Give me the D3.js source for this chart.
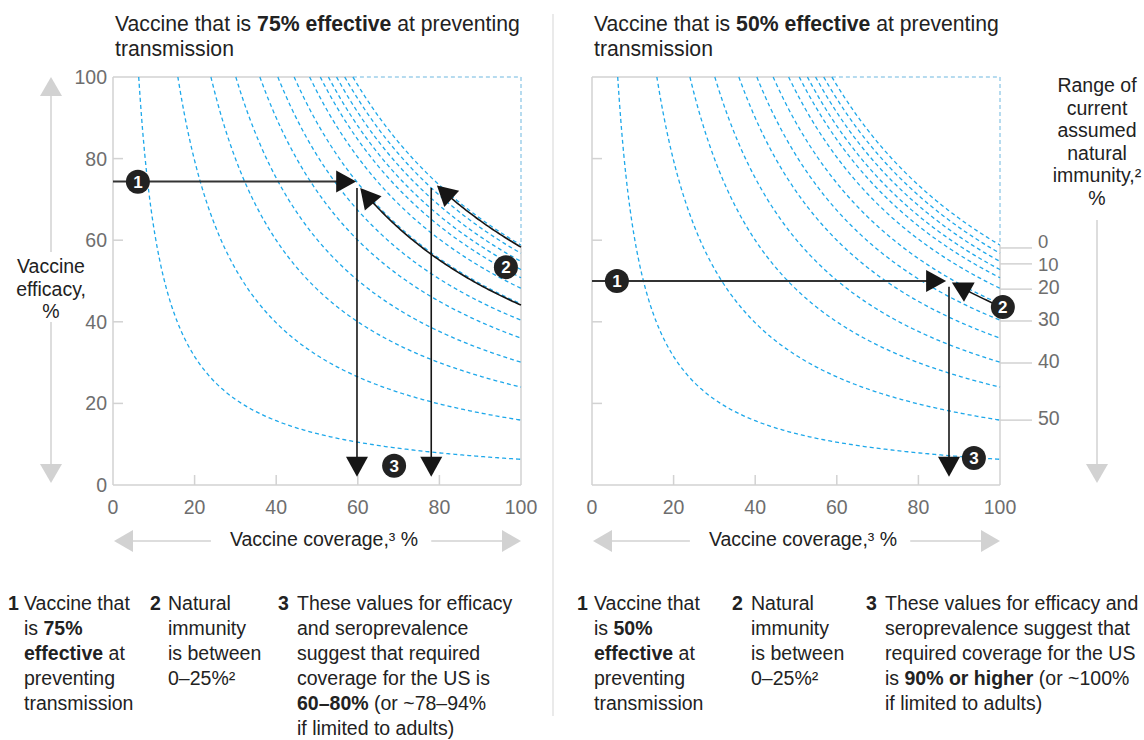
<!DOCTYPE html>
<html><head><meta charset="utf-8">
<script src="https://cdn.jsdelivr.net/npm/d3@7"></script>
<style>
body{margin:0;background:#fff;}
svg{font-family:"Liberation Sans", Arial, sans-serif;}
</style></head><body>
<svg id="chart" width="1144" height="740"></svg>
<script>
// ---------- data ----------
const coverageTicks = [0, 20, 40, 60, 80, 100];
const efficacyTicks = [0, 20, 40, 60, 80, 100];
// coverage (%) each dashed iso-immunity line needs at 100% efficacy
const isoLineCoverageAt100 = [6.3, 15.9, 24.0, 30.1, 36.0, 40.4, 44.4, 48.2, 50.8, 52.8, 54.8, 56.8, 58.8];
// natural immunity legend (right panel)
const immunityLabels = [0, 10, 20, 30, 40, 50];
const immunityTickEfficacy = [58.1, 54.2, 48.0, 40.2, 29.9, 15.9];

// panel annotations
const panelTitleBold = ["75% effective", "50% effective"];
const efficacyLine = [74.4, 50];                 // arrow 1 efficacy
const efficacyLineEnd = [59.6, 86.8];            // arrow 1 coverage at tip
const coverageDrops = [[59.8, 78.0], [87.5]];    // arrow 3 coverage
const dropTopEfficacy = [[72.8, 72.8], [48.6]];
const dropEndEfficacy = [2, 2];
const immunityArrowEffAt100 = [[58.3, 44.1], [43.8]]; // black arrow 2 curves
const immunityArrowTipCoverage = [[79.4, 60.6], [88.2]];
const marker1 = [[6.1, 74.3], [6.1, 50]];
const marker2 = [[96.3, 53.4], [100.7, 43.6]];
const marker3 = [[68.9, 4.7], [93.6, 6.6]];

const footnotes = [
  [
    {num: "1", x: 8, tx: 24, lines: [[["Vaccine that", 0]], [["is ", 0], ["75%", 1]], [["effective", 1], [" at", 0]], [["preventing", 0]], [["transmission", 0]]]},
    {num: "2", x: 150, tx: 168, lines: [[["Natural", 0]], [["immunity", 0]], [["is between", 0]], [["0–25%²", 0]]]},
    {num: "3", x: 278, tx: 297, lines: [[["These values for efficacy", 0]], [["and seroprevalence", 0]], [["suggest that required", 0]], [["coverage for the US is", 0]], [["60–80%", 1], [" (or ~78–94%", 0]], [["if limited to adults)", 0]]]}
  ],
  [
    {num: "1", x: 577, tx: 594, lines: [[["Vaccine that", 0]], [["is ", 0], ["50%", 1]], [["effective", 1], [" at", 0]], [["preventing", 0]], [["transmission", 0]]]},
    {num: "2", x: 732, tx: 751, lines: [[["Natural", 0]], [["immunity", 0]], [["is between", 0]], [["0–25%²", 0]]]},
    {num: "3", x: 866, tx: 885, lines: [[["These values for efficacy and", 0]], [["seroprevalence suggest that", 0]], [["required coverage for the US", 0]], [["is ", 0], ["90% or higher", 1], [" (or ~100%", 0]], [["if limited to adults)", 0]]]}
  ]
];

// ---------- drawing ----------
const svg = d3.select("#chart");
const GRAY = "#d2d2d2", LABEL = "#6e6e6e", TEXT = "#222", BLUE = "#1ea8ea", INK = "#161616";
const FS = 19.5;
const plotTop = 77, plotBottom = 485, plotW = 408;
const panelLeft = [113, 592];

function arrowHead(g, tx, ty, ang, color, len = 20, half = 11) {
  const c = Math.cos(ang), s = Math.sin(ang);
  const bx = tx - c * len, by = ty - s * len;
  const p = [[tx, ty], [bx - s * half, by + c * half], [bx + s * half, by - c * half]];
  g.append("path").attr("d", "M" + p.map(d => d.join(",")).join("L") + "Z").attr("fill", color);
}
function marker(g, x, y, label) {
  g.append("circle").attr("cx", x).attr("cy", y).attr("r", 12).attr("fill", "#222");
  g.append("text").attr("x", x).attr("y", y + 6).attr("text-anchor", "middle")
    .attr("font-size", 17).attr("font-weight", "bold").attr("fill", "#fff").text(label);
}

// divider
svg.append("line").attr("x1", 553).attr("x2", 553).attr("y1", 14).attr("y2", 716)
  .attr("stroke", "#dcdcdc").attr("stroke-width", 1.2);

panelLeft.forEach((left, pi) => {
  const g = svg.append("g");
  const x = d3.scaleLinear().domain([0, 100]).range([left, left + plotW]);
  const y = d3.scaleLinear().domain([0, 100]).range([plotBottom, plotTop]);
  const kMax = d3.max(isoLineCoverageAt100);

  // title
  [["Vaccine that is ", 0], [panelTitleBold[pi], 1], [" at preventing", 0]].reduce((t, [s, b]) => {
    t.append("tspan").attr("font-weight", b ? "bold" : null).text(s); return t;
  }, g.append("text").attr("x", left + 2).attr("y", 31).attr("font-size", 21.2).attr("fill", TEXT));
  g.append("text").attr("x", left + 2).attr("y", 56).attr("font-size", 21.2).attr("fill", TEXT).text("transmission");

  // frame
  const fr = g.append("g").attr("stroke", GRAY).attr("stroke-width", 1.5).attr("fill", "none");
  fr.append("line").attr("x1", x(0)).attr("x2", x(0)).attr("y1", y(0)).attr("y2", y(100));
  fr.append("line").attr("x1", x(0)).attr("x2", x(100)).attr("y1", y(0)).attr("y2", y(0));
  fr.append("line").attr("x1", x(0)).attr("x2", x(kMax)).attr("y1", y(100)).attr("y2", y(100));
  fr.append("line").attr("x1", x(100)).attr("x2", x(100)).attr("y1", y(0)).attr("y2", y(kMax));
  const fb = g.append("g").attr("stroke", "#9fd0ea").attr("stroke-width", 1.5).attr("stroke-dasharray", "4 3");
  fb.append("line").attr("x1", x(kMax)).attr("x2", x(100)).attr("y1", y(100)).attr("y2", y(100));
  fb.append("line").attr("x1", x(100)).attr("x2", x(100)).attr("y1", y(100)).attr("y2", y(kMax));

  // inward ticks
  efficacyTicks.filter(v => v > 0 && v < 100).forEach(v => {
    fr.append("line").attr("x1", x(0)).attr("x2", x(0) + 10).attr("y1", y(v)).attr("y2", y(v));
  });
  coverageTicks.filter(v => v > 0 && v < 100).forEach(v => {
    fr.append("line").attr("x1", x(v)).attr("x2", x(v)).attr("y1", y(0)).attr("y2", y(0) - 10);
  });

  // x tick labels
  g.append("g").selectAll("text").data(coverageTicks).join("text")
    .attr("x", d => x(d)).attr("y", 514).attr("text-anchor", "middle")
    .attr("font-size", FS).attr("fill", LABEL).text(d => d);
  if (pi === 0) {
    g.append("g").selectAll("text").data(efficacyTicks).join("text")
      .attr("x", x(0) - 6).attr("y", d => y(d) + 7).attr("text-anchor", "end")
      .attr("font-size", FS).attr("fill", LABEL).text(d => d);
  }

  // x axis title with arrows
  const xc = x(50) + 7;
  g.append("text").attr("x", xc).attr("y", 546).attr("text-anchor", "middle")
    .attr("font-size", FS).attr("fill", TEXT).text("Vaccine coverage,³ %");
  const ay = 541;
  g.append("line").attr("x1", x(0) + 18).attr("x2", x(24)).attr("y1", ay).attr("y2", ay).attr("stroke", GRAY).attr("stroke-width", 1.5);
  g.append("line").attr("x1", x(78)).attr("x2", x(100) - 18).attr("y1", ay).attr("y2", ay).attr("stroke", GRAY).attr("stroke-width", 1.5);
  arrowHead(g, x(0) + 1, ay, Math.PI, GRAY, 19, 11);
  arrowHead(g, x(100), ay, 0, GRAY, 19, 11);

  // dashed iso lines
  const line = d3.line().x(d => x(d[0])).y(d => y(d[1])).curve(d3.curveBasis);
  isoLineCoverageAt100.forEach(k => {
    const pts = d3.range(k, 100.001, 0.5).map(c => [c, 100 * k / c]);
    pts.push([100, k]);
    g.append("path").attr("d", line(pts)).attr("fill", "none")
      .attr("stroke", BLUE).attr("stroke-width", 1.3).attr("stroke-dasharray", "4 3");
  });

  // arrow 1 (horizontal)
  const e1 = efficacyLine[pi];
  g.append("line").attr("x1", x(0)).attr("x2", x(efficacyLineEnd[pi]) - 10).attr("y1", y(e1)).attr("y2", y(e1))
    .attr("stroke", "#333").attr("stroke-width", 2);
  arrowHead(g, x(efficacyLineEnd[pi]), y(e1), 0, INK);

  // arrow 3 (vertical drops)
  coverageDrops[pi].forEach((c, i) => {
    g.append("line").attr("x1", x(c)).attr("x2", x(c)).attr("y1", y(dropTopEfficacy[pi][i])).attr("y2", y(dropEndEfficacy[pi]) - 10)
      .attr("stroke", INK).attr("stroke-width", 1.6);
    arrowHead(g, x(c), y(dropEndEfficacy[pi]), Math.PI / 2, INK);
  });

  // arrow 2 (along immunity curves)
  immunityArrowEffAt100[pi].forEach((k, i) => {
    const tip = immunityArrowTipCoverage[pi][i];
    const pts = d3.range(100, tip - 0.001, -0.5).map(c => [c, k * 100 / c]);
    pts.push([tip, k * 100 / tip]);
    const px = pts.map(d => [x(d[0]), y(d[1])]);
    const n = px.length;
    const a = px[n - 1], b = px[Math.max(0, n - 4)];
    const ang = Math.atan2(a[1] - b[1], a[0] - b[0]);
    g.append("path").attr("d", d3.line()(px.slice(0, Math.max(2, n - 3)))).attr("fill", "none")
      .attr("stroke", INK).attr("stroke-width", 1.6);
    arrowHead(g, a[0], a[1], ang, INK);
  });

  marker(g, x(marker1[pi][0]), y(marker1[pi][1]), "1");
  marker(g, x(marker2[pi][0]), y(marker2[pi][1]), "2");
  marker(g, x(marker3[pi][0]), y(marker3[pi][1]), "3");

  // footnotes
  footnotes[pi].forEach(fn => {
    g.append("text").attr("x", fn.x).attr("y", 610).attr("font-size", FS).attr("font-weight", "bold").attr("fill", TEXT).text(fn.num);
    fn.lines.forEach((segs, li) => {
      const t = g.append("text").attr("x", fn.tx).attr("y", 610 + li * 25).attr("font-size", FS).attr("fill", TEXT);
      segs.forEach(([s, b]) => t.append("tspan").attr("font-weight", b ? "bold" : null).text(s));
    });
  });

  // natural immunity legend (right panel)
  if (pi === 1) {
    const lg = g.append("g");
    const labelShift = [0, 7, 5, 5, 5, 5];
    immunityTickEfficacy.forEach((v, i) => {
      lg.append("line").attr("x1", x(100)).attr("x2", x(100) + 32).attr("y1", y(v)).attr("y2", y(v))
        .attr("stroke", GRAY).attr("stroke-width", 1.5);
      lg.append("text").attr("x", x(100) + 38).attr("y", y(v) + labelShift[i])
        .attr("font-size", i < 2 ? 18.5 : FS).attr("fill", LABEL).text(immunityLabels[i]);
    });
    const lx = 1097;
    ["Range of", "current", "assumed", "natural", "immunity,²", "%"].forEach((s, i) => {
      lg.append("text").attr("x", lx).attr("y", 92 + i * 22.5).attr("text-anchor", "middle")
        .attr("font-size", FS).attr("fill", TEXT).text(s);
    });
    lg.append("line").attr("x1", lx).attr("x2", lx).attr("y1", 220).attr("y2", 466).attr("stroke", GRAY).attr("stroke-width", 1.5);
    arrowHead(lg, lx, 483, Math.PI / 2, GRAY, 19, 11);
  }
});

// left y-axis title with arrows
const yl = svg.append("g");
["Vaccine", "efficacy,", "%"].forEach((s, i) => {
  yl.append("text").attr("x", 51).attr("y", 273 + i * 22.5).attr("text-anchor", "middle")
    .attr("font-size", FS).attr("fill", TEXT).text(s);
});
yl.append("line").attr("x1", 51).attr("x2", 51).attr("y1", 94).attr("y2", 252).attr("stroke", GRAY).attr("stroke-width", 1.5);
yl.append("line").attr("x1", 51).attr("x2", 51).attr("y1", 322).attr("y2", 466).attr("stroke", GRAY).attr("stroke-width", 1.5);
arrowHead(yl, 51, 77, -Math.PI / 2, GRAY, 19, 11);
arrowHead(yl, 51, 483, Math.PI / 2, GRAY, 19, 11);
</script>
</body></html>
